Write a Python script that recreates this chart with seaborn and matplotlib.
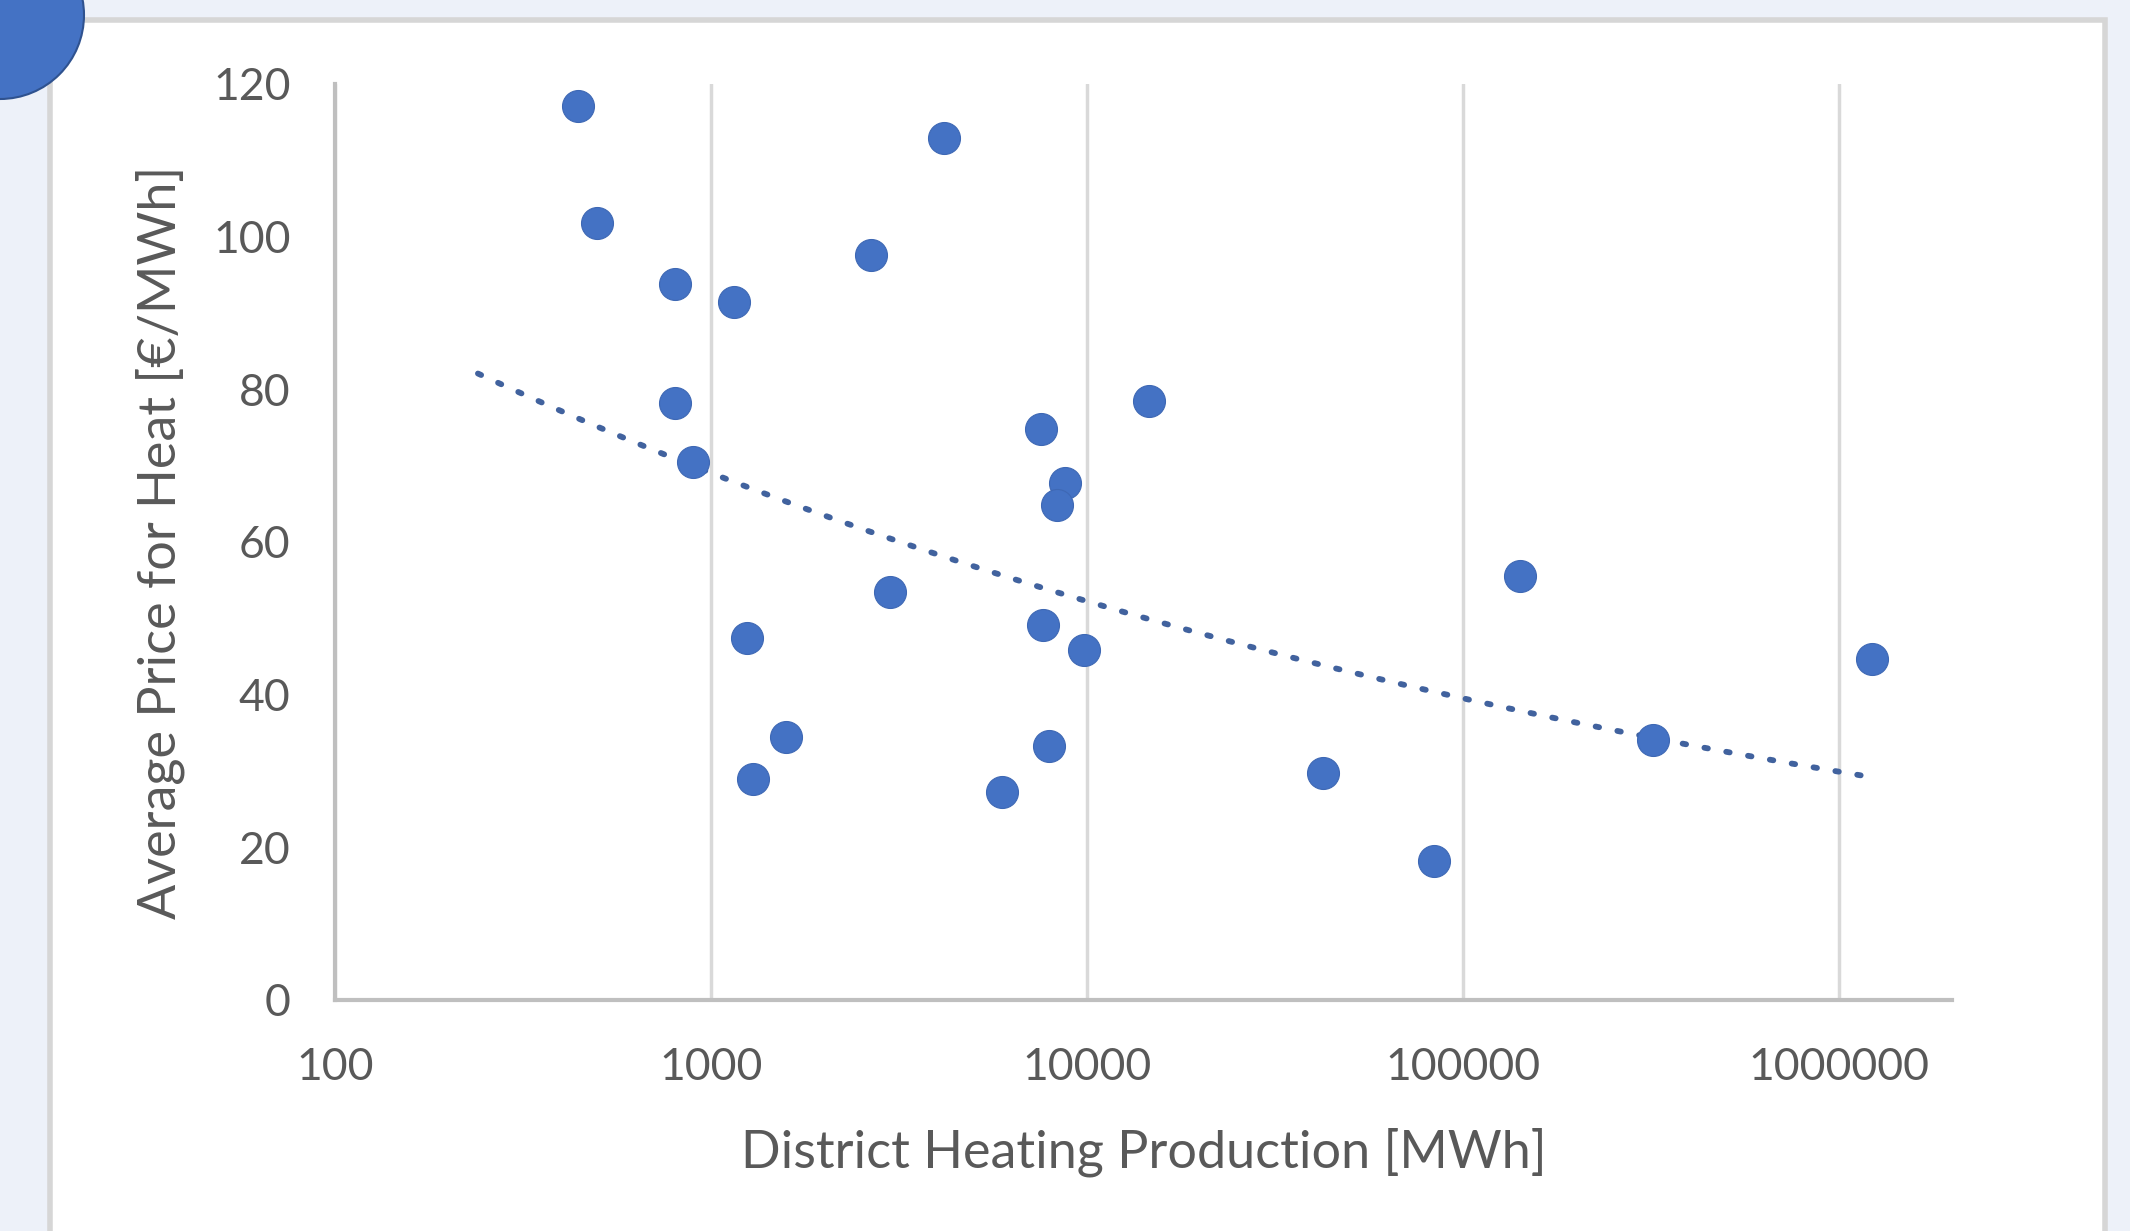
import numpy as np
import pandas as pd
import matplotlib
matplotlib.use("Agg")
import matplotlib.pyplot as plt
from matplotlib.patches import Circle, Rectangle
from matplotlib.transforms import IdentityTransform
from matplotlib.ticker import LogLocator, NullFormatter, FixedLocator, FixedFormatter
import seaborn as sns

# ---- data ----
production_mwh = [442, 498, 800, 1152, 800, 898, 2667, 4178, 1250, 1580, 1295, 2999,
                  5927, 7536, 8750, 8330, 7660, 7920, 9840, 14660, 42460, 83970,
                  141900, 320000, 1222000]
price_eur_mwh = [117.1, 101.8, 93.8, 91.5, 78.2, 70.5, 97.6, 112.9, 47.4, 34.4, 29.0, 53.4,
                 27.2, 74.8, 67.7, 64.8, 49.1, 33.3, 45.8, 78.5, 29.7, 18.2,
                 55.5, 34.0, 44.7]
trend_start = 240          # trendline forecast backward to here
x_ticks = [100, 1000, 10000, 100000, 1000000]
x_tick_labels = ["100", "1000", "10000", "100000", "1000000"]
y_ticks = [0, 20, 40, 60, 80, 100, 120]
x_label = "District Heating Production [MWh]"
y_label = "Average Price for Heat [€/MWh]"

df = pd.DataFrame({"x": production_mwh, "y": price_eur_mwh})

sns.set_style("white")
plt.rcParams["font.family"] = ["Lato", "DejaVu Sans"]

W, H = 2130, 1231
fig = plt.figure(figsize=(W / 100, H / 100), dpi=100)
fig.patch.set_facecolor("#EDF1F9")

# white panel with grey border
panel = Rectangle((50 / W, -0.05), (2105 - 50) / W, (H - 20) / H + 0.05,
                  transform=fig.transFigure, facecolor="white",
                  edgecolor="#D6D6D6", linewidth=4, zorder=0)
fig.add_artist(panel)

# blue circle at top-left corner (pixel coords)
circ = Circle((0, H - 15), 84, transform=IdentityTransform(), facecolor="#4472C4",
              edgecolor="#2F528F", linewidth=1.5, zorder=5)
fig.add_artist(circ)

ax = fig.add_axes([335 / W, 1 - 1000 / H, (1952 - 335) / W, (1000 - 84) / H])
ax.set_facecolor("none")

blue = "#4472C4"
sns.scatterplot(data=df, x="x", y="y", ax=ax, s=530, color=blue,
                edgecolor="#3E68B4", linewidth=0.8, zorder=3, legend=False)

# power trendline (Excel-style), fitted on log-log
coef = np.polyfit(np.log(df["x"]), np.log(df["y"]), 1)
tx = np.geomspace(trend_start, df["x"].max(), 200)
ty = np.exp(coef[1]) * tx ** coef[0]
ax.plot(tx, ty, linestyle=(0, (0.6, 3.2)), color="#41629E", linewidth=4.2,
        dash_capstyle="round", zorder=2)

ax.set_xscale("log")
ax.set_xlim(100, 2000000)
ax.set_ylim(0, 120)

ax.xaxis.set_major_locator(FixedLocator(x_ticks))
ax.xaxis.set_major_formatter(FixedFormatter(x_tick_labels))
ax.xaxis.set_minor_locator(LogLocator(base=10, subs=np.arange(2, 10), numticks=20))
ax.xaxis.set_minor_formatter(NullFormatter())
ax.set_yticks(y_ticks)

ax.grid(axis="x", which="major", color="#D9D9D9", linewidth=2.5)
ax.grid(axis="y", visible=False)
ax.set_axisbelow(True)

for s in ["top", "right"]:
    ax.spines[s].set_visible(False)
for s in ["left", "bottom"]:
    ax.spines[s].set_color("#BFBFBF")
    ax.spines[s].set_linewidth(3)

ax.tick_params(axis="x", which="major", direction="inout", length=28, width=2.5,
               color="#BFBFBF", labelsize=32, labelcolor="#595959", pad=20)
ax.tick_params(axis="x", which="minor", direction="out", length=12, width=2.5,
               color="#BFBFBF")
ax.tick_params(axis="y", which="major", length=0, labelsize=32,
               labelcolor="#595959", pad=32)

ax.set_xlabel(x_label, fontsize=37.5, color="#595959", labelpad=28)
ax.set_ylabel(y_label, fontsize=37.5, color="#595959", labelpad=20)

fig.savefig("out.png", dpi=100, facecolor=fig.get_facecolor())
